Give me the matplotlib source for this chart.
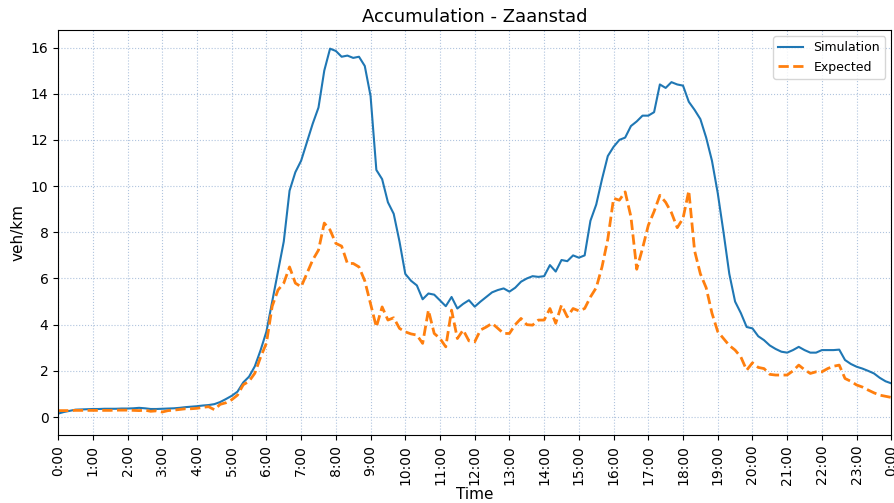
import numpy as np
import matplotlib
matplotlib.use("Agg")
import matplotlib.pyplot as plt

# 10-minute samples, one row per hour (last value = 24:00)
simulation = [
    0.15, 0.22, 0.27, 0.32, 0.33, 0.34,
    0.35, 0.35, 0.36, 0.36, 0.36, 0.37,
    0.37, 0.38, 0.40, 0.38, 0.35, 0.35,
    0.36, 0.37, 0.38, 0.40, 0.43, 0.45,
    0.47, 0.50, 0.52, 0.56, 0.65, 0.78,
    0.92, 1.10, 1.50, 1.75, 2.20, 2.90,
    3.70, 5.00, 6.30, 7.60, 9.80, 10.6,
    11.1, 11.9, 12.7, 13.4, 15.0, 15.95,
    15.85, 15.6, 15.65, 15.55, 15.6, 15.2,
    13.9, 10.7, 10.3, 9.3, 8.8, 7.6,
    6.2, 5.9, 5.7, 5.1, 5.35, 5.3,
    5.05, 4.8, 5.2, 4.7, 4.9, 5.06,
    4.78, 5.0, 5.2, 5.4, 5.5, 5.57,
    5.43, 5.6, 5.86, 6.0, 6.1, 6.07,
    6.1, 6.58, 6.3, 6.8, 6.75, 7.0,
    6.9, 7.0, 8.5, 9.2, 10.3, 11.3,
    11.7, 12.0, 12.1, 12.6, 12.8, 13.05,
    13.05, 13.2, 14.4, 14.25, 14.5, 14.4,
    14.35, 13.65, 13.3, 12.9, 12.1, 11.1,
    9.7, 8.0, 6.2, 5.0, 4.5, 3.9,
    3.84, 3.5, 3.33, 3.1, 2.95, 2.83,
    2.79, 2.9, 3.04, 2.9, 2.79, 2.79,
    2.9, 2.9, 2.9, 2.92, 2.47, 2.3,
    2.18, 2.1, 2.0, 1.89, 1.7, 1.55,
    1.46,
]

expected = [
    0.28, 0.28, 0.28, 0.29, 0.29, 0.29,
    0.29, 0.29, 0.29, 0.29, 0.30, 0.30,
    0.30, 0.29, 0.28, 0.30, 0.25, 0.27,
    0.22, 0.28, 0.30, 0.33, 0.36, 0.36,
    0.38, 0.42, 0.45, 0.32, 0.55, 0.62,
    0.75, 0.95, 1.40, 1.55, 1.90, 2.60,
    3.20, 4.80, 5.50, 5.80, 6.50, 5.80,
    5.64, 6.22, 6.80, 7.23, 8.40, 8.10,
    7.52, 7.40, 6.65, 6.65, 6.50, 5.90,
    4.90, 3.90, 4.77, 4.20, 4.30, 3.84,
    3.69, 3.60, 3.55, 3.19, 4.63, 3.62,
    3.40, 3.04, 4.63, 3.40, 3.77, 3.30,
    3.26, 3.77, 3.90, 4.06, 3.84, 3.62,
    3.62, 4.00, 4.27, 4.00, 3.98, 4.20,
    4.20, 4.70, 4.06, 4.85, 4.34, 4.70,
    4.60, 4.70, 5.20, 5.60, 6.50, 7.70,
    9.47, 9.39, 9.75, 8.67, 6.40, 7.30,
    8.30, 8.90, 9.60, 9.30, 8.85, 8.20,
    8.60, 9.80, 7.20, 6.20, 5.60, 4.50,
    3.70, 3.40, 3.10, 2.90, 2.60, 2.03,
    2.35, 2.15, 2.10, 1.85, 1.82, 1.82,
    1.82, 2.00, 2.25, 2.05, 1.89, 1.96,
    1.96, 2.10, 2.20, 2.25, 1.67, 1.55,
    1.39, 1.30, 1.17, 1.05, 0.95, 0.90,
    0.85,
]

hours = np.arange(len(simulation)) / 6.0
tick_labels = ["%d:00" % (h % 24) for h in range(25)]

fig = plt.figure(figsize=(8.94, 5.03), dpi=100)
ax = fig.add_axes([0.065, 0.135, 0.932, 0.805])

ax.plot(hours, simulation, color="#1f77b4", lw=1.5, label="Simulation")
ax.plot(hours, expected, color="#ff7f0e", lw=2, ls="--", label="Expected")

ax.set_xlim(0, 24)
ax.set_ylim(-0.78, 16.75)
ax.set_xticks(range(25))
ax.set_xticklabels(tick_labels, rotation=90)
ax.set_yticks(range(0, 17, 2))
ax.grid(True, ls=":", color="#b0c4de", lw=0.8)

ax.set_title("Accumulation - Zaanstad", fontsize=13)
ax.set_xlabel("Time", fontsize=11, labelpad=2)
ax.set_ylabel("veh/km", fontsize=11)
ax.legend(loc="upper right", fontsize=9)

fig.savefig("out.png", dpi=100)
